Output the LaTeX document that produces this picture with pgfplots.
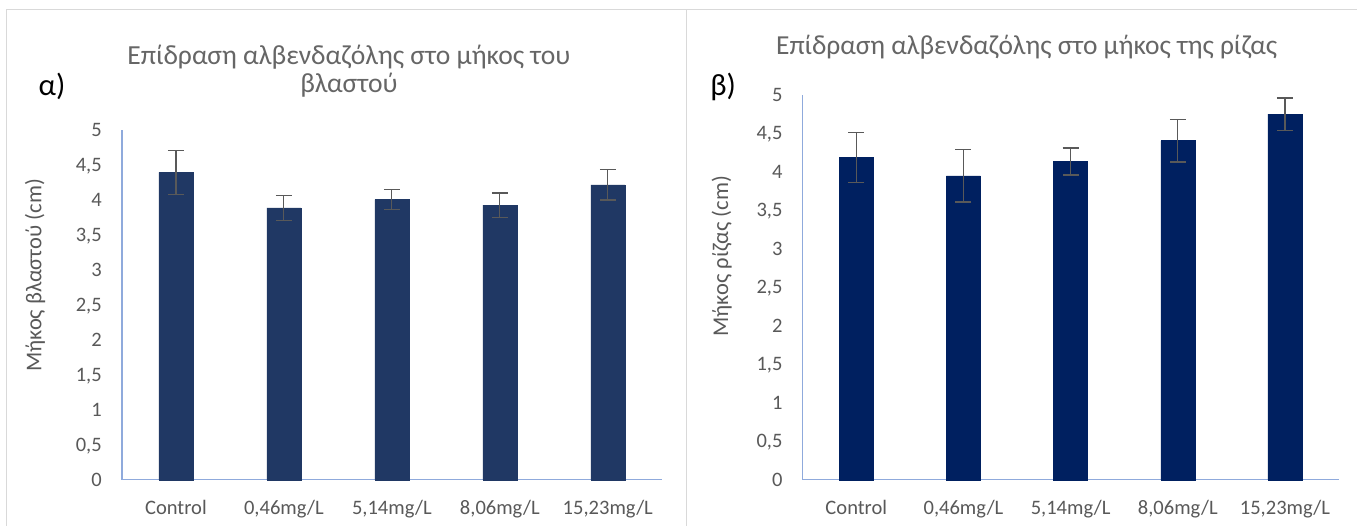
\documentclass[border=0pt]{standalone}
\usepackage{fontspec}
\setmainfont{Carlito}
\usepackage{pgfplots}
\pgfplotsset{compat=1.18}
\definecolor{txt}{HTML}{595959}
\definecolor{ttl}{HTML}{666666}
\definecolor{barA}{HTML}{203864}
\definecolor{barB}{HTML}{002060}
\definecolor{axl}{HTML}{8FAADC}
\definecolor{framec}{HTML}{D9D9D9}
\definecolor{errc}{HTML}{595959}

\pgfplotstableread{
x y e
0 4.395 0.315
1 3.885 0.175
2 4.005 0.145
3 3.925 0.175
4 4.215 0.215
}\shoot
\pgfplotstableread{
x y e
0 4.185 0.325
1 3.950 0.340
2 4.135 0.175
3 4.405 0.275
4 4.750 0.210
}\root

\pgfplotsset{
  mybar/.style={
    scale only axis, ymin=0, ymax=5, xmin=-0.5, xmax=4.5,
    axis x line=bottom, axis y line=left,
    axis line style={-, draw=axl, line width=1bp},
    xtick={0,1,2,3,4}, ytick={0,0.5,1,1.5,2,2.5,3,3.5,4,4.5,5},
    xticklabels={Control,{0,46mg/L},{5,14mg/L},{8,06mg/L},{15,23mg/L}},
    yticklabels={0,{0,5},1,{1,5},2,{2,5},3,{3,5},4,{4,5},5},
    major tick length=0pt, tick style={draw=none},
    ticklabel style={font=\fontsize{15.4bp}{18bp}\selectfont, text=txt, inner sep=0pt},
    xticklabel style={anchor=base, yshift=-25.9bp},
    yticklabel style={anchor=base east, xshift=-15bp, yshift=-4.9bp},
    ylabel style={font=\fontsize{16.9bp}{20bp}\selectfont, text=txt, anchor=center},
    ybar, bar width=25.5bp,
    clip=false,
  },
}

\begin{document}
\begin{tikzpicture}[x=0.75bp,y=0.75bp]
\fill[white] (0,0) rectangle (1357,526);
\draw[framec, line width=0.75bp] (7,0) -- (7,516.5) -- (1357,516.5);
\draw[framec, line width=0.75bp] (687,0) -- (687,516.5);

\node[anchor=base west, font=\fontsize{23bp}{27bp}\selectfont] at (34,430) {α)};
\node[anchor=base west, font=\fontsize{23bp}{27bp}\selectfont] at (706,430) {β)};

\begin{axis}[mybar, at={(91.5bp,34.5bp)}, width=405bp, height=262.5bp,
  ylabel={Μήκος βλαστού (cm)},
  ylabel style={at={(axis description cs:-0.161,0.584)}}]
  \addplot[fill=barA, draw=barA,
    error bars/.cd, y dir=both, y explicit,
    error bar style={errc, line width=0.9bp},
    error mark options={rotate=90, mark size=6bp, line width=0.9bp, errc}]
    table[x=x, y=y, y error=e] {\shoot};
  \node[anchor=base, font=\fontsize{20.7bp}{24bp}\selectfont, text=ttl]
    at (axis description cs:0.4204,1.1857) {Επίδραση αλβενδαζόλης στο μήκος του};
  \node[anchor=base, font=\fontsize{20.7bp}{24bp}\selectfont, text=ttl]
    at (axis description cs:0.4204,1.1057) {βλαστού};
\end{axis}

\begin{axis}[mybar, at={(602.25bp,34.5bp)}, width=402bp, height=288.75bp,
  ylabel={Μήκος ρίζας (cm)},
  ylabel style={at={(axis description cs:-0.151,0.581)}}]
  \addplot[fill=barB, draw=barB,
    error bars/.cd, y dir=both, y explicit,
    error bar style={errc, line width=0.9bp},
    error mark options={rotate=90, mark size=6bp, line width=0.9bp, errc}]
    table[x=x, y=y, y error=e] {\root};
  \node[anchor=base, font=\fontsize{20.6bp}{24bp}\selectfont, text=ttl]
    at (axis description cs:0.418,1.1039) {Επίδραση αλβενδαζόλης στο μήκος της ρίζας};
\end{axis}
\end{tikzpicture}
\end{document}
